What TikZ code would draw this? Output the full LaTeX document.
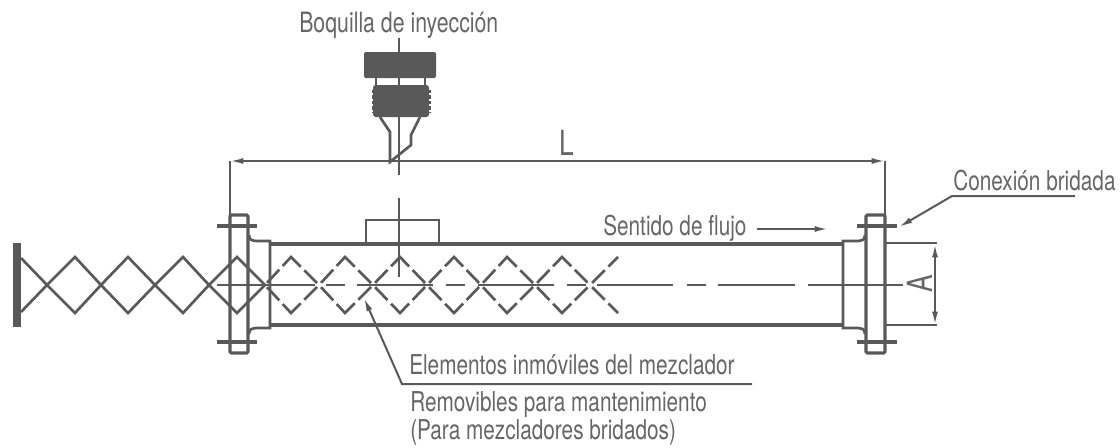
\documentclass[tikz,border=0pt]{standalone}
\usepackage{fontspec}
\setmainfont[FakeStretch=0.76]{TeX Gyre Heros}
\usetikzlibrary{arrows.meta}
\definecolor{ink}{HTML}{595959}
\definecolor{lettering}{HTML}{666666}
\begin{document}
\begin{tikzpicture}[x=.75pt,y=-.75pt,
   every node/.style={text=lettering,inner sep=0pt,font=\fontsize{20.5}{18}\selectfont},
   bigtext/.style={font=\fontsize{26}{26}\selectfont},
   body/.style={draw=ink,line width=2.3pt,rounded corners=1pt},
   strut/.style={draw=ink,line width=2pt},
   hair/.style={draw=ink,line width=1.5pt},
   bolt/.style={draw=ink,line width=3.6pt},
   dimtip/.style={{Latex[length=10pt,width=4.5pt]}-{Latex[length=10pt,width=4.5pt]}},
   leader/.style={-{Latex[length=10pt,width=4.5pt]}},
   dashcell/.style={strut,dash pattern=on 13.5pt off 3.75pt on 19.5pt off 3.75pt on 13.5pt off 4.5pt,dash phase=56.25pt}]
\useasboundingbox (0,0) rectangle (1120,447);
% fixed end of the mixer
\fill[ink] (13,243) rectangle (21,327);
\draw[strut] (21,258) -- (47,285) (21,312) -- (47,285);
\foreach \from/\peak/\to in {47/75/101,101/128/155,155/183/209,209/237/265}{
   \draw[strut] (\from,285) -- (\peak,257) -- (\to,285);
   \draw[strut] (\from,285) -- (\peak,313) -- (\to,285);
}
% elements inside the pipe
\foreach \from/\peak/\to in {265/291/319,319/345/373,373/400/427,427/454/481,481/507/535,535/562/590,590/618/646}{
   \ifnum\from=590
      \draw[dashcell] (\from,285) -- (\peak,257);
      \draw[dashcell] (\from,285) -- (\peak,313);
   \else
      \draw[dashcell] (\from,285) -- (\peak,257) -- (\to,285);
      \draw[dashcell] (\from,285) -- (\peak,313) -- (\to,285);
   \fi
}
% center line
\foreach \from/\to in {217/315,326/345,357/433,446/465,478/554,567/586,597/673,687/706,718/795,808/903}
   \draw[strut] (\from,285) -- (\to,285);
% pipe
\draw[body] (270,244) -- (843,244);
\draw[body] (270,325) -- (843,325);
\draw[strut] (366,244) -- (366,220) -- (439,220) -- (439,244);
% flanges
\draw[body] (230,215) rectangle (248,353);
\draw[body] (866,215) rectangle (885,353);
\draw[bolt] (217,226) -- (257,226);
\draw[bolt] (217,342) -- (257,342);
\draw[bolt] (857,226) -- (897,226);
\draw[bolt] (857,342) -- (897,342);
\draw[strut] (249,235) .. controls (250,240) .. (256,241) -- (270,241) -- (270,328) -- (256,328) .. controls (250,329) .. (249,334);
\draw[strut] (865,235) .. controls (864,240) .. (858,241) -- (843,241) -- (843,328) -- (858,328) .. controls (864,329) .. (865,334);
\draw[hair] (885,243) -- (937,243);
\draw[hair] (885,325) -- (937,325);
% injection nozzle
\draw[strut] (399,38) -- (399,175);
\draw[strut] (399,198) -- (399,277);
\fill[ink,rounded corners=1pt] (364,52) rectangle (436,78);
\fill[ink,rounded corners=2pt] (373,85) rectangle (429,117);
\draw[ink,line width=1.5pt,dash pattern=on 2.6pt off 1.5pt] (372.5,90) -- (372.5,113);
\draw[ink,line width=1.5pt,dash pattern=on 2.6pt off 1.5pt] (429.5,90) -- (429.5,113);
\draw[strut] (376,78) -- (376,85);
\draw[strut] (425,78) -- (425,85);
\draw[strut] (380,117) -- (390,132) -- (390,162) -- (411,145) -- (411,135) -- (420,117);
% dimensions
\coordinate (dimLa) at (230,161);
\coordinate (dimLb) at (885,161);
\coordinate (flangeLeft) at (230,215);
\coordinate (flangeRight) at (885,215);
\draw[hair] (flangeLeft) -- (dimLa);
\draw[hair] (flangeRight) -- (dimLb);
\draw[hair,dimtip] (dimLa) -- (dimLb);
\node[bigtext,anchor=base] (dimL) at (567,155) {L};
\coordinate (dimAa) at (935,244);
\coordinate (dimAb) at (935,325);
\draw[hair,dimtip] (dimAa) -- (dimAb);
\node[bigtext,rotate=90,anchor=base] (dimA) at (932,284) {A};
% labels
\node[anchor=base west,font=\fontsize{21}{22}\selectfont] (boquilla) at (299,32) {Boquilla de inyección};
\node[anchor=base west] (sentido) at (603,235) {Sentido de flujo};
\coordinate (flowtip) at (828,229);
\draw[hair,leader] (sentido.east |- flowtip) ++(10,0) -- (flowtip);
\node[anchor=base west] (conexion) at (953,190) {Conexión bridada};
\coordinate (conexionEnd) at (1075,196);
\coordinate (conexionKnee) at (952,196);
\coordinate (conexionTip) at (899,227);
\draw[hair,leader] (conexionEnd) -- (conexionKnee) -- (conexionTip);
\node[anchor=base west] (elementos) at (409,374) {Elementos inmóviles del mezclador};
\coordinate (elementosEnd) at (752,384);
\coordinate (elementosKnee) at (402,384);
\coordinate (elementosTip) at (364,298);
\draw[hair,leader] (elementosEnd) -- (elementosKnee) -- (elementosTip);
\node[anchor=base west,align=left] (removibles) at (410,439) {Removibles para mantenimiento\\(Para mezcladores bridados)};
\end{tikzpicture}
\end{document}
